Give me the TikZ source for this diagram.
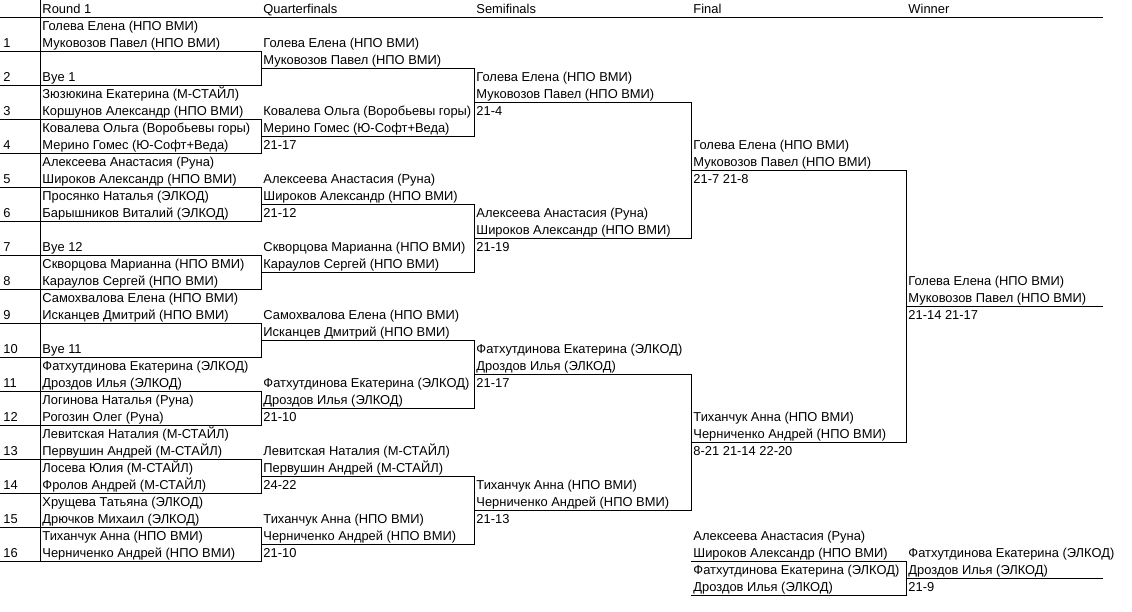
\documentclass[tikz,border=0pt]{standalone}
\usepackage{fontspec}
\setmainfont{Liberation Sans}
\usetikzlibrary{positioning}

\begin{document}
\begin{tikzpicture}[x=1pt,y=-1pt,line width=0.9pt,
                    entry/.style={anchor=base west,inner sep=0pt,font=\fontsize{12.9}{15}\selectfont}
                   ]
  \useasboundingbox (0,0) rectangle (1132,611);

  % header
  \node[entry] (hr) at (42,13.5) {Round 1};
  \node[entry] (hq) at (263,13.5) {Quarterfinals};
  \node[entry] (hs) at (476,13.5) {Semifinals};
  \node[entry] (hf) at (693,13.5) {Final};
  \node[entry] (hw) at (908,13.5) {Winner};
  \coordinate (top) at (40,0);
  \coordinate (bot) at (40,561);
  \coordinate (hl) at (0,17);
  \coordinate (hr2) at (1103,17);
  \draw (hl) -- (hr2);
  \draw (top) -- (bot);

  % seeds
  \foreach \s in {1,...,16} {
    \node[entry] (n\s) at (3,{13.5+34*\s}) {\s};
    \coordinate (u\s) at (0,{17+34*\s});
    \coordinate (v\s) at (261,{17+34*\s});
  }
  \foreach \k in {1,3,...,15} {
    \pgfmathtruncatemacro\j{\k+1}
    \draw (u\k) -- (v\k) -- (v\j) -- (u\j);
  }

  % round 1
  \node[entry] (a1) at (42,30.5) {Голева Елена (НПО ВМИ)};
  \node[entry] (b1) at (42,47.5) {Муковозов Павел (НПО ВМИ)};
  \node[entry] (b2) at (42,81.5) {Bye 1};
  \node[entry] (a3) at (42,98.5) {Зюзюкина Екатерина (М-СТАЙЛ)};
  \node[entry] (b3) at (42,115.5) {Коршунов Александр (НПО ВМИ)};
  \node[entry] (a4) at (42,132.5) {Ковалева Ольга (Воробьевы горы)};
  \node[entry] (b4) at (42,149.5) {Мерино Гомес (Ю-Софт+Веда)};
  \node[entry] (a5) at (42,166.5) {Алексеева Анастасия (Руна)};
  \node[entry] (b5) at (42,183.5) {Широков Александр (НПО ВМИ)};
  \node[entry] (a6) at (42,200.5) {Просянко Наталья (ЭЛКОД)};
  \node[entry] (b6) at (42,217.5) {Барышников Виталий (ЭЛКОД)};
  \node[entry] (b7) at (42,251.5) {Bye 12};
  \node[entry] (a8) at (42,268.5) {Скворцова Марианна (НПО ВМИ)};
  \node[entry] (b8) at (42,285.5) {Караулов Сергей (НПО ВМИ)};
  \node[entry] (a9) at (42,302.5) {Самохвалова Елена (НПО ВМИ)};
  \node[entry] (b9) at (42,319.5) {Исканцев Дмитрий (НПО ВМИ)};
  \node[entry] (b10) at (42,353.5) {Bye 11};
  \node[entry] (a11) at (42,370.5) {Фатхутдинова Екатерина (ЭЛКОД)};
  \node[entry] (b11) at (42,387.5) {Дроздов Илья (ЭЛКОД)};
  \node[entry] (a12) at (42,404.5) {Логинова Наталья (Руна)};
  \node[entry] (b12) at (42,421.5) {Рогозин Олег (Руна)};
  \node[entry] (a13) at (42,438.5) {Левитская Наталия (М-СТАЙЛ)};
  \node[entry] (b13) at (42,455.5) {Первушин Андрей (М-СТАЙЛ)};
  \node[entry] (a14) at (42,472.5) {Лосева Юлия (М-СТАЙЛ)};
  \node[entry] (b14) at (42,489.5) {Фролов Андрей (М-СТАЙЛ)};
  \node[entry] (a15) at (42,506.5) {Хрущева Татьяна (ЭЛКОД)};
  \node[entry] (b15) at (42,523.5) {Дрючков Михаил (ЭЛКОД)};
  \node[entry] (a16) at (42,540.5) {Тиханчук Анна (НПО ВМИ)};
  \node[entry] (b16) at (42,557.5) {Черниченко Андрей (НПО ВМИ)};

  % quarterfinals
  \node[entry] (qa1) at (263,47.5) {Голева Елена (НПО ВМИ)};
  \node[entry] (qb1) at (263,64.5) {Муковозов Павел (НПО ВМИ)};
  \node[entry] (qa2) at (263,115.5) {Ковалева Ольга (Воробьевы горы)};
  \node[entry] (qb2) at (263,132.5) {Мерино Гомес (Ю-Софт+Веда)};
  \node[entry] (qs2) at (263,149.5) {21-17};
  \node[entry] (qa3) at (263,183.5) {Алексеева Анастасия (Руна)};
  \node[entry] (qb3) at (263,200.5) {Широков Александр (НПО ВМИ)};
  \node[entry] (qs3) at (263,217.5) {21-12};
  \node[entry] (qa4) at (263,251.5) {Скворцова Марианна (НПО ВМИ)};
  \node[entry] (qb4) at (263,268.5) {Караулов Сергей (НПО ВМИ)};
  \node[entry] (qa5) at (263,319.5) {Самохвалова Елена (НПО ВМИ)};
  \node[entry] (qb5) at (263,336.5) {Исканцев Дмитрий (НПО ВМИ)};
  \node[entry] (qa6) at (263,387.5) {Фатхутдинова Екатерина (ЭЛКОД)};
  \node[entry] (qb6) at (263,404.5) {Дроздов Илья (ЭЛКОД)};
  \node[entry] (qs6) at (263,421.5) {21-10};
  \node[entry] (qa7) at (263,455.5) {Левитская Наталия (М-СТАЙЛ)};
  \node[entry] (qb7) at (263,472.5) {Первушин Андрей (М-СТАЙЛ)};
  \node[entry] (qs7) at (263,489.5) {24-22};
  \node[entry] (qa8) at (263,523.5) {Тиханчук Анна (НПО ВМИ)};
  \node[entry] (qb8) at (263,540.5) {Черниченко Андрей (НПО ВМИ)};
  \node[entry] (qs8) at (263,557.5) {21-10};

  \coordinate (qu1) at (261,68);   \coordinate (qv1) at (474,68);
  \coordinate (qu2) at (261,136);  \coordinate (qv2) at (474,136);
  \coordinate (qu3) at (261,204);  \coordinate (qv3) at (474,204);
  \coordinate (qu4) at (261,272);  \coordinate (qv4) at (474,272);
  \coordinate (qu5) at (261,340);  \coordinate (qv5) at (474,340);
  \coordinate (qu6) at (261,408);  \coordinate (qv6) at (474,408);
  \coordinate (qu7) at (261,476);  \coordinate (qv7) at (474,476);
  \coordinate (qu8) at (261,544);  \coordinate (qv8) at (474,544);
  \draw (qu1) -- (qv1) -- (qv2) -- (qu2);
  \draw (qu3) -- (qv3) -- (qv4) -- (qu4);
  \draw (qu5) -- (qv5) -- (qv6) -- (qu6);
  \draw (qu7) -- (qv7) -- (qv8) -- (qu8);

  % semifinals
  \node[entry] (sa1) at (476,81.5) {Голева Елена (НПО ВМИ)};
  \node[entry] (sb1) at (476,98.5) {Муковозов Павел (НПО ВМИ)};
  \node[entry] (ss1) at (476,115.5) {21-4};
  \node[entry] (sa2) at (476,217.5) {Алексеева Анастасия (Руна)};
  \node[entry] (sb2) at (476,234.5) {Широков Александр (НПО ВМИ)};
  \node[entry] (ss2) at (476,251.5) {21-19};
  \node[entry] (sa3) at (476,353.5) {Фатхутдинова Екатерина (ЭЛКОД)};
  \node[entry] (sb3) at (476,370.5) {Дроздов Илья (ЭЛКОД)};
  \node[entry] (ss3) at (476,387.5) {21-17};
  \node[entry] (sa4) at (476,489.5) {Тиханчук Анна (НПО ВМИ)};
  \node[entry] (sb4) at (476,506.5) {Черниченко Андрей (НПО ВМИ)};
  \node[entry] (ss4) at (476,523.5) {21-13};

  \coordinate (su1) at (474,102);  \coordinate (sv1) at (691,102);
  \coordinate (su2) at (474,238);  \coordinate (sv2) at (691,238);
  \coordinate (su3) at (474,374);  \coordinate (sv3) at (691,374);
  \coordinate (su4) at (474,510);  \coordinate (sv4) at (691,510);
  \draw (su1) -- (sv1) -- (sv2) -- (su2);
  \draw (su3) -- (sv3) -- (sv4) -- (su4);

  % final
  \node[entry] (fa1) at (693,149.5) {Голева Елена (НПО ВМИ)};
  \node[entry] (fb1) at (693,166.5) {Муковозов Павел (НПО ВМИ)};
  \node[entry] (fs1) at (693,183.5) {21-7 21-8};
  \node[entry] (fa2) at (693,421.5) {Тиханчук Анна (НПО ВМИ)};
  \node[entry] (fb2) at (693,438.5) {Черниченко Андрей (НПО ВМИ)};
  \node[entry] (fs2) at (693,455.5) {8-21 21-14 22-20};

  \coordinate (fu1) at (691,170);  \coordinate (fv1) at (906,170);
  \coordinate (fu2) at (691,442);  \coordinate (fv2) at (906,442);
  \draw (fu1) -- (fv1) -- (fv2) -- (fu2);

  % winner
  \node[entry] (wa) at (908,285.5) {Голева Елена (НПО ВМИ)};
  \node[entry] (wb) at (908,302.5) {Муковозов Павел (НПО ВМИ)};
  \node[entry] (ws) at (908,319.5) {21-14 21-17};
  \coordinate (wu) at (906,306);  \coordinate (wv) at (1103,306);
  \draw (wu) -- (wv);

  % third place
  \node[entry] (ta1) at (693,540.5) {Алексеева Анастасия (Руна)};
  \node[entry] (tb1) at (693,557.5) {Широков Александр (НПО ВМИ)};
  \node[entry] (ta2) at (693,574.5) {Фатхутдинова Екатерина (ЭЛКОД)};
  \node[entry] (tb2) at (693,591.5) {Дроздов Илья (ЭЛКОД)};
  \node[entry] (twa) at (908,557.5) {Фатхутдинова Екатерина (ЭЛКОД)};
  \node[entry] (twb) at (908,574.5) {Дроздов Илья (ЭЛКОД)};
  \node[entry] (tws) at (908,591.5) {21-9};

  \coordinate (tu1) at (691,561);  \coordinate (tv1) at (906,561);
  \coordinate (tu2) at (691,595);  \coordinate (tv2) at (906,595);
  \coordinate (twu) at (906,578);  \coordinate (twv) at (1103,578);
  \draw (tu1) -- (tv1) -- (tv2) -- (tu2);
  \draw (twu) -- (twv);
\end{tikzpicture}
\end{document}
